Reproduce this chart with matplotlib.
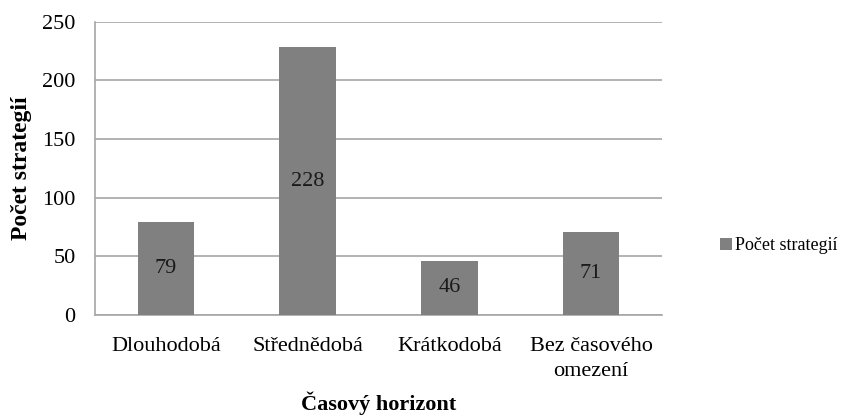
import matplotlib.pyplot as plt

# Data
kategorie = ['Dlouhodobá', 'Střednědobá', 'Krátkodobá', 'Bez časového\nomezení']
pocet = [79, 228, 46, 71]

plt.rcParams['font.family'] = ['Liberation Serif', 'DejaVu Serif']

fig = plt.figure(figsize=(8.46, 4.16), dpi=100)
ax = fig.add_axes([0.1123, 0.2428, 0.6702, 0.7054])

x = range(len(kategorie))
bars = ax.bar(x, pocet, width=0.4, color='#808080', label='Počet strategií', zorder=3)

# Hodnoty uprostřed sloupců
for b, v in zip(bars, pocet):
    ax.text(b.get_x() + b.get_width() / 2, v / 2, str(v),
            ha='center', va='center', fontsize=16, color='#1a1a1a', zorder=4)

ax.set_xlim(-0.5, len(kategorie) - 0.5)
ax.set_ylim(0, 250)
ax.set_yticks([0, 50, 100, 150, 200, 250])
ax.set_xticks(list(x))
ax.set_xticklabels(kategorie, fontsize=16, linespacing=1.4)
ax.tick_params(axis='y', labelsize=16, length=0, pad=14)
ax.tick_params(axis='x', length=0, pad=16)

ax.grid(axis='y', color='#a6a6a6', linewidth=1.2, zorder=0)
for s in ['top', 'right']:
    ax.spines[s].set_visible(False)
for s in ['left', 'bottom']:
    ax.spines[s].set_color('#a6a6a6')
    ax.spines[s].set_linewidth(1.2)

ax.set_xlabel('Časový horizont', fontsize=16, fontweight='bold')
ax.set_ylabel('Počet strategií', fontsize=17, fontweight='bold')
ax.xaxis.set_label_coords(0.5, -0.262)
ax.yaxis.set_label_coords(-0.111, 0.5)

fig.legend(loc='center left', bbox_to_anchor=(0.851, 0.41), frameon=False,
           fontsize=13, handlelength=0.65, handleheight=0.65, handletextpad=0.2,
           borderaxespad=0, borderpad=0)

fig.savefig('out.png', dpi=100)
